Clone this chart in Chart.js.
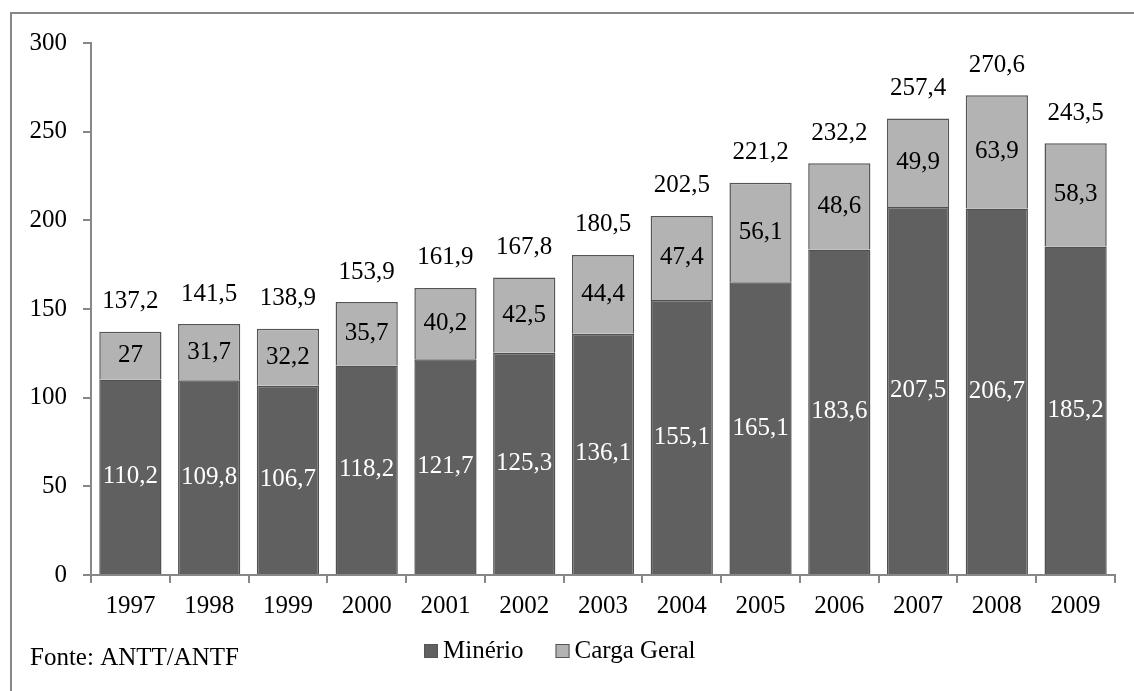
<!DOCTYPE html>
<html>
<head>
<meta charset="utf-8">
<script src="https://cdn.jsdelivr.net/npm/chart.js@4/dist/chart.umd.min.js"></script>
<style>
  html, body { margin: 0; padding: 0; background: #fff; }
  #wrap { width: 1134px; height: 691px; position: relative; }
</style>
</head>
<body>
<div id="wrap"><canvas id="chart"></canvas></div>
<script>
const anos = ['1997', '1998', '1999', '2000', '2001', '2002', '2003', '2004', '2005', '2006', '2007', '2008', '2009'];
const minerio = [110.2, 109.8, 106.7, 118.2, 121.7, 125.3, 136.1, 155.1, 165.1, 183.6, 207.5, 206.7, 185.2];
const cargaGeral = [27, 31.7, 32.2, 35.7, 40.2, 42.5, 44.4, 47.4, 56.1, 48.6, 49.9, 63.9, 58.3];
const yTicks = [0, 50, 100, 150, 200, 250, 300];
const fonte = 'Fonte: ANTT/ANTF';

const SERIF = "'Liberation Serif', 'Times New Roman', serif";
const AXIS_GRAY = '#878787';

Chart.defaults.font.family = SERIF;
Chart.defaults.font.size = 25;
Chart.defaults.color = '#000';

// 1 decimal, comma separator
const fmt = v => {
  const r = Math.round(v * 10) / 10;
  return String(r).replace('.', ',');
};

// values inside each segment + totals above the stack
const valueLabels = {
  id: 'valueLabels',
  afterDatasetsDraw(chart) {
    const ctx = chart.ctx;
    ctx.save();
    ctx.font = '25px ' + SERIF;
    ctx.textAlign = 'center';
    ctx.textBaseline = 'middle';
    chart.data.datasets.forEach((ds, i) => {
      const meta = chart.getDatasetMeta(i);
      ctx.fillStyle = i === 0 ? '#fff' : '#000';
      meta.data.forEach((bar, j) => {
        const p = bar.getProps(['x', 'y', 'base'], true);
        ctx.fillText(fmt(ds.data[j]), p.x, (p.y + p.base) / 2);
      });
    });
    const top = chart.getDatasetMeta(chart.data.datasets.length - 1);
    ctx.fillStyle = '#000';
    top.data.forEach((bar, j) => {
      const total = chart.data.datasets.reduce((s, d) => s + d.data[j], 0);
      const p = bar.getProps(['x', 'y'], true);
      ctx.fillText(fmt(total), p.x, p.y - 30);
    });
    ctx.restore();
  }
};

// frame, legend and source note
const decor = {
  id: 'decor',
  afterDraw(chart) {
    const ctx = chart.ctx;
    ctx.save();
    ctx.strokeStyle = AXIS_GRAY;
    ctx.lineWidth = 2;
    ctx.strokeRect(11, 13, 1200, 1200);

    ctx.font = '25px ' + SERIF;
    ctx.textBaseline = 'middle';
    ctx.textAlign = 'left';
    const ly = 651;
    let x = 424;
    chart.data.datasets.forEach(ds => {
      ctx.fillStyle = ds.backgroundColor;
      ctx.fillRect(x, ly - 7, 14, 14);
      ctx.strokeStyle = '#555';
      ctx.lineWidth = 1;
      ctx.strokeRect(x + 0.5, ly - 6.5, 13, 13);
      ctx.fillStyle = '#000';
      ctx.fillText(ds.label, x + 19, ly);
      x += 19 + ctx.measureText(ds.label).width + 32;
    });

    ctx.fillText(fonte, 30, 658);
    ctx.restore();
  }
};

new Chart(document.getElementById('chart'), {
  type: 'bar',
  data: {
    labels: anos,
    datasets: [
      {
        label: 'Minério',
        data: minerio,
        backgroundColor: '#606060',
        borderColor: '#505050',
        borderWidth: 1.5
      },
      {
        label: 'Carga Geral',
        data: cargaGeral,
        backgroundColor: '#b3b3b3',
        borderColor: '#555555',
        borderWidth: 1.5
      }
    ]
  },
  options: {
    responsive: true,
    maintainAspectRatio: false,
    animation: false,
    layout: { padding: { left: 0, right: 19, top: 43, bottom: 66 } },
    datasets: { bar: { categoryPercentage: 1, barPercentage: 0.79 } },
    plugins: {
      legend: { display: false },
      tooltip: { enabled: false }
    },
    scales: {
      x: {
        stacked: true,
        afterFit(s) { s.height = 50; },
        grid: {
          offset: true,
          drawOnChartArea: false,
          drawTicks: true,
          tickLength: 8,
          color: AXIS_GRAY,
          lineWidth: 2
        },
        border: { display: true, color: AXIS_GRAY, width: 2 },
        ticks: { padding: 8, maxRotation: 0, autoSkip: false }
      },
      y: {
        stacked: true,
        min: 0,
        max: 300,
        afterFit(s) { s.width = 91; },
        afterBuildTicks(s) { s.ticks = yTicks.map(v => ({ value: v })); },
        grid: {
          drawOnChartArea: false,
          drawTicks: true,
          tickLength: 8,
          color: AXIS_GRAY,
          lineWidth: 2
        },
        border: { display: true, color: AXIS_GRAY, width: 2 },
        ticks: { padding: 16 }
      }
    }
  },
  plugins: [valueLabels, decor]
});
</script>
</body>
</html>
